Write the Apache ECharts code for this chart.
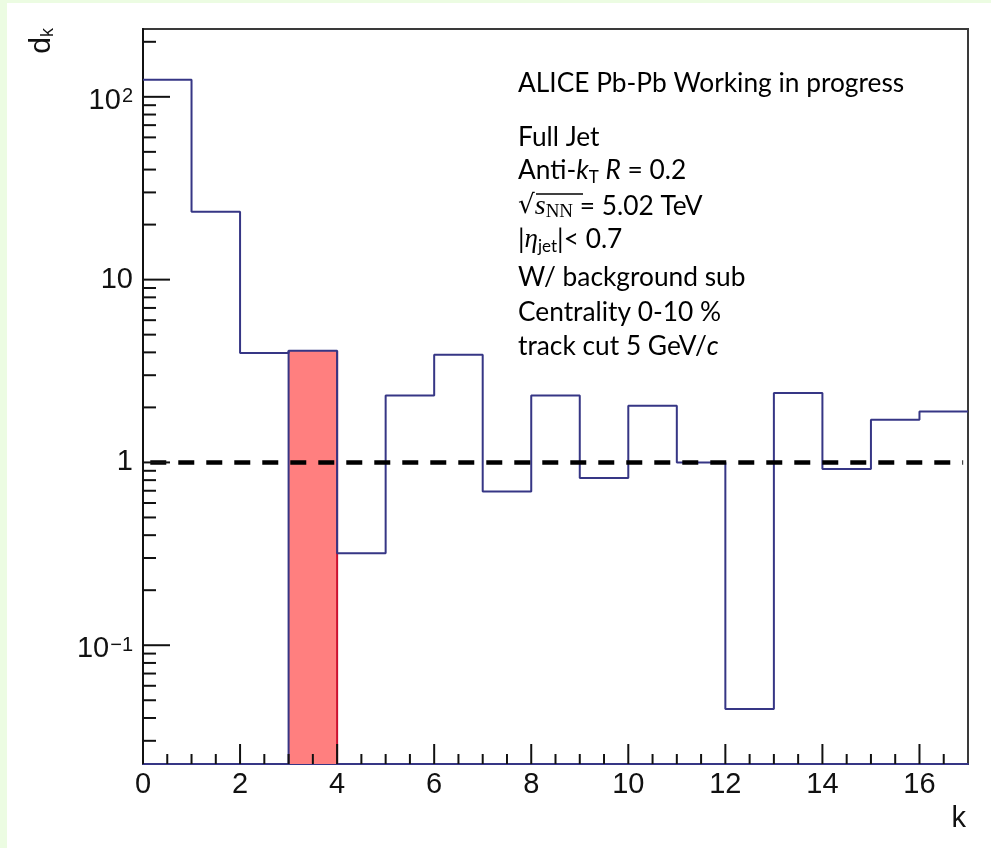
<!DOCTYPE html>
<html>
<head>
<meta charset="utf-8">
<script src="https://cdn.jsdelivr.net/npm/echarts@6/dist/echarts.min.js"></script>
<style>
  html, body { margin: 0; padding: 0; background: #fff; }
  #chart { width: 991px; height: 848px; }
</style>
</head>
<body>
<div id="chart"></div>
<script>
// Bin edges in k and the per-bin d_k contents
const binEdges = [0, 1, 2, 3, 4, 5, 6, 7, 8, 9, 10, 11, 12, 13, 14, 15, 16, 17];
const dk = [124, 23.5, 3.97, 4.08, 0.319, 2.32, 3.88, 0.694, 2.32, 0.823, 2.04, 1.00, 0.0448, 2.40, 0.92, 1.71, 1.90];
// the bin that is shown filled
const highlightBin = 3;
// unity reference line (k from, k to, level)
const unityFrom = 0.15, unityTo = 16.9, unityLevel = 1;

// axis ranges
const xMin = 0, xMax = 17;
const yMin = 0.0224, yMax = 235;

// tick marks and their labels
const xMajorTicks = [0, 2, 4, 6, 8, 10, 12, 14, 16];
const xTickLabels = ['0', '2', '4', '6', '8', '10', '12', '14', '16'];
const xMinorTicks = [0.5, 1, 1.5, 2.5, 3, 3.5, 4.5, 5, 5.5, 6.5, 7, 7.5, 8.5, 9, 9.5, 10.5, 11, 11.5,
                     12.5, 13, 13.5, 14.5, 15, 15.5, 16.5];
const yMajorTicks = [0.1, 1, 10, 100];
const yTickLabels = [['10', '\u22121'], ['1', ''], ['10', ''], ['10', '2']];
const yMinorTicks = [0.03, 0.04, 0.05, 0.06, 0.07, 0.08, 0.09,
                     0.2, 0.3, 0.4, 0.5, 0.6, 0.7, 0.8, 0.9,
                     2, 3, 4, 5, 6, 7, 8, 9,
                     20, 30, 40, 50, 60, 70, 80, 90, 200];

const histColor = '#363685';
const tickFont = 'Liberation Sans, Arial, sans-serif';
const noteFont = 'Lato, sans-serif';
const noteSize = 26.3;

const chart = echarts.init(document.getElementById('chart'), null, { renderer: 'canvas' });

// histogram outline as a step path through the bin edges
const stepData = binEdges.map((e, i) => [e, dk[Math.min(i, dk.length - 1)]]);

// tick data: [axis (0 = x, 1 = y), value, major flag]
const tickData = []
  .concat(xMajorTicks.map(v => [0, v, 1]))
  .concat(xMinorTicks.map(v => [0, v, 0]))
  .concat(yMajorTicks.map(v => [1, v, 1]))
  .concat(yMinorTicks.map(v => [1, v, 0]));

function yLabel(v) {
  const lv = Math.log10(v);
  const idx = yMajorTicks.findIndex(t => Math.abs(Math.log10(t) - lv) < 1e-6);
  if (idx < 0) return '';
  const [base, exp] = yTickLabels[idx];
  return exp ? '{bs|' + base + '}{s|' + exp + '}' : '{b|' + base + '}';
}

function xLabel(v) {
  const idx = xMajorTicks.findIndex(t => Math.abs(t - v) < 1e-9);
  return idx < 0 ? '' : xTickLabels[idx];
}

function noteLine(y, text) {
  return {
    type: 'text', x: 518, y: y, silent: true,
    style: {
      text: text, align: 'left', verticalAlign: 'middle',
      fontSize: noteSize, fontFamily: noteFont, fill: '#000', lineHeight: 30,
      rich: {
        i: { fontSize: noteSize, fontFamily: noteFont, fontStyle: 'italic', fill: '#000', lineHeight: 30 },
        sub: { fontSize: 17, fontFamily: noteFont, fill: '#000', lineHeight: 18, verticalAlign: 'bottom' },
        rad: { fontSize: noteSize, fontFamily: 'DejaVu Sans, sans-serif', fill: '#000', lineHeight: 30 },
        si: { fontSize: 28, fontFamily: 'Liberation Serif, serif', fontStyle: 'italic', fill: '#000', lineHeight: 30 },
        subs: { fontSize: 19, fontFamily: 'Liberation Serif, serif', fill: '#000', lineHeight: 18, verticalAlign: 'bottom' },
        eta: { fontSize: 27, fontFamily: 'Liberation Serif, serif', fontStyle: 'italic', fill: '#000', lineHeight: 30 }
      }
    }
  };
}

const option = {
  backgroundColor: '#ffffff',
  animation: false,
  grid: {
    left: 143, right: 23, top: 29, bottom: 84,
    show: true, borderColor: '#3a3a3a', borderWidth: 2,
    backgroundColor: 'transparent', containLabel: false, outerBoundsMode: 'none'
  },
  xAxis: {
    type: 'value', min: xMin, max: xMax, interval: 2,
    axisLine: { show: true, lineStyle: { color: histColor, width: 2 } },
    axisTick: { show: false },
    splitLine: { show: false },
    axisLabel: {
      formatter: xLabel, fontSize: 29, fontFamily: tickFont, color: '#111',
      margin: 6, lineHeight: 29
    }
  },
  yAxis: {
    type: 'log', logBase: 10, min: yMin, max: yMax,
    axisLine: { show: true, lineStyle: { color: '#111', width: 2 } },
    axisTick: { show: false },
    splitLine: { show: false },
    axisLabel: {
      formatter: yLabel, margin: 10,
      rich: {
        b: { fontSize: 29, fontFamily: tickFont, color: '#111', lineHeight: 30 },
        bs: { fontSize: 29, fontFamily: tickFont, color: '#111', lineHeight: 30, padding: [8, 0, 0, 0] },
        s: { fontSize: 20, fontFamily: tickFont, color: '#111', lineHeight: 20, verticalAlign: 'top', padding: [5, 0, 0, 1] }
      }
    }
  },
  series: [
    {
      // filled bin
      type: 'custom',
      z: 2,
      data: [[binEdges[highlightBin], binEdges[highlightBin + 1], dk[highlightBin]]],
      renderItem: function (params, api) {
        const tl = api.coord([api.value(0), api.value(2)]);
        const br = api.coord([api.value(1), yMin]);
        return {
          type: 'group',
          children: [
            { type: 'rect', shape: { x: tl[0], y: tl[1], width: br[0] - tl[0], height: br[1] - tl[1] },
              style: { fill: '#ff7f7f' } },
            { type: 'line', shape: { x1: br[0], y1: tl[1], x2: br[0], y2: br[1] },
              style: { stroke: '#cc1030', lineWidth: 2 } },
            { type: 'line', shape: { x1: tl[0], y1: tl[1], x2: tl[0], y2: br[1] },
              style: { stroke: histColor, lineWidth: 2 } }
          ]
        };
      }
    },
    {
      // histogram outline
      type: 'line',
      z: 3,
      step: 'end',
      data: stepData,
      symbol: 'none',
      lineStyle: { color: histColor, width: 2 },
      silent: true
    },
    {
      // unity reference line
      type: 'line',
      z: 4,
      data: [[unityFrom, unityLevel], [unityTo, unityLevel]],
      symbol: 'none',
      lineStyle: { color: '#000', width: 4.5, type: [16, 12] },
      silent: true
    },
    {
      // axis tick marks (ticks point into the frame)
      type: 'custom',
      z: 5,
      data: tickData,
      renderItem: function (params, api) {
        const axis = api.value(0), v = api.value(1), major = api.value(2);
        if (axis === 0) {
          const p = api.coord([v, yMin]);
          const len = major ? 20 : 10;
          return { type: 'line', shape: { x1: p[0], y1: p[1], x2: p[0], y2: p[1] - len },
                   style: { stroke: '#111', lineWidth: 2 } };
        }
        const p = api.coord([xMin, v]);
        const len = major ? 27 : 13;
        return { type: 'line', shape: { x1: p[0], y1: p[1], x2: p[0] + len, y2: p[1] },
                 style: { stroke: '#111', lineWidth: 2 } };
      }
    }
  ],
  graphic: [
    // page edge strips
    { type: 'rect', shape: { x: 0, y: 0, width: 7, height: 848 }, style: { fill: '#ecfce2' }, silent: true },
    { type: 'rect', shape: { x: 0, y: 0, width: 991, height: 3 }, style: { fill: '#ecfce2' }, silent: true },
    // axis titles
    {
      type: 'text', x: 966, y: 819, silent: true,
      style: { text: 'k', font: '29px ' + tickFont, fill: '#111', align: 'right', verticalAlign: 'middle' }
    },
    {
      type: 'text', x: 42, y: 28, rotation: Math.PI / 2, silent: true,
      style: {
        text: '{d|d}{k|k}', align: 'right', verticalAlign: 'middle',
        rich: {
          d: { fontSize: 30, fontFamily: tickFont, fill: '#111', lineHeight: 30 },
          k: { fontSize: 18, fontFamily: tickFont, fill: '#111', lineHeight: 18, verticalAlign: 'bottom' }
        }
      }
    },
    // annotation block
    noteLine(83.5, 'ALICE Pb-Pb Working in progress'),
    noteLine(137.5, 'Full Jet'),
    noteLine(171, 'Anti-{i|k}{sub|T} {i|R} = 0.2'),
    noteLine(206.5, '{rad|\u221A}{si|s}{subs|NN} = 5.02 TeV'),
    noteLine(240, '|{eta|\u03B7}{sub|jet}|< 0.7'),
    noteLine(278, 'W/ background sub'),
    noteLine(313, 'Centrality 0-10 %'),
    noteLine(346.5, 'track cut 5 GeV/{i|c}'),
    { type: 'line', shape: { x1: 536, y1: 194, x2: 583, y2: 194 }, style: { stroke: '#000', lineWidth: 1.5 }, silent: true }
  ]
};

chart.setOption(option);
</script>
</body>
</html>
